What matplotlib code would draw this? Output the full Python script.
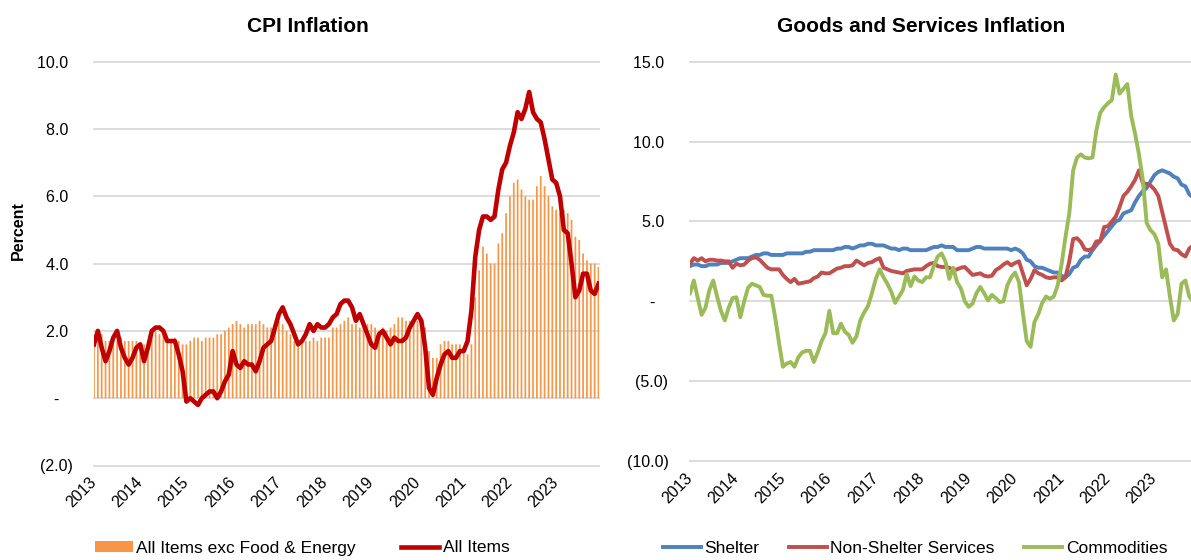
import matplotlib
matplotlib.use("Agg")
import matplotlib.pyplot as plt
import numpy as np
from matplotlib.patches import Patch
from matplotlib.lines import Line2D

plt.rcParams['font.family'] = ['Liberation Sans', 'DejaVu Sans']

# ---------------- data (monthly, Jan 2013 - Dec 2023) ----------------
years = [str(y) for y in range(2013, 2024)]

all_items = [
    1.6, 2.0, 1.5, 1.1, 1.4, 1.8, 2.0, 1.5, 1.2, 1.0, 1.2, 1.5,
    1.6, 1.1, 1.5, 2.0, 2.1, 2.1, 2.0, 1.7, 1.7, 1.7, 1.3, 0.8,
    -0.1, 0.0, -0.1, -0.2, 0.0, 0.1, 0.2, 0.2, 0.0, 0.2, 0.5, 0.7,
    1.4, 1.0, 0.9, 1.1, 1.0, 1.0, 0.8, 1.1, 1.5, 1.6, 1.7, 2.1,
    2.5, 2.7, 2.4, 2.2, 1.9, 1.6, 1.7, 1.9, 2.2, 2.0, 2.2, 2.1,
    2.1, 2.2, 2.4, 2.5, 2.8, 2.9, 2.9, 2.7, 2.3, 2.5, 2.2, 1.9,
    1.6, 1.5, 1.9, 2.0, 1.8, 1.6, 1.8, 1.7, 1.7, 1.8, 2.1, 2.3,
    2.5, 2.3, 1.5, 0.3, 0.1, 0.6, 1.0, 1.3, 1.4, 1.2, 1.2, 1.4,
    1.4, 1.7, 2.6, 4.2, 5.0, 5.4, 5.4, 5.3, 5.4, 6.2, 6.8, 7.0,
    7.5, 7.9, 8.5, 8.3, 8.6, 9.1, 8.5, 8.3, 8.2, 7.7, 7.1, 6.5,
    6.4, 6.0, 5.0, 4.9, 4.0, 3.0, 3.2, 3.7, 3.7, 3.2, 3.1, 3.4,
]

core = [
    1.9, 2.0, 1.9, 1.7, 1.7, 1.6, 1.7, 1.8, 1.7, 1.7, 1.7, 1.7,
    1.6, 1.6, 1.7, 1.8, 2.0, 1.9, 1.9, 1.7, 1.7, 1.8, 1.7, 1.6,
    1.6, 1.7, 1.8, 1.8, 1.7, 1.8, 1.8, 1.8, 1.9, 1.9, 2.0, 2.1,
    2.2, 2.3, 2.2, 2.1, 2.2, 2.2, 2.2, 2.3, 2.2, 2.1, 2.1, 2.2,
    2.3, 2.2, 2.0, 1.9, 1.7, 1.7, 1.7, 1.7, 1.7, 1.8, 1.7, 1.8,
    1.8, 1.8, 2.1, 2.1, 2.2, 2.3, 2.4, 2.2, 2.2, 2.1, 2.2, 2.2,
    2.2, 2.1, 2.0, 2.1, 2.0, 2.1, 2.2, 2.4, 2.4, 2.3, 2.3, 2.3,
    2.3, 2.4, 2.1, 1.4, 1.2, 1.2, 1.6, 1.7, 1.7, 1.6, 1.6, 1.6,
    1.4, 1.3, 1.6, 3.0, 3.8, 4.5, 4.3, 4.0, 4.0, 4.6, 4.9, 5.5,
    6.0, 6.4, 6.5, 6.2, 6.0, 5.9, 5.9, 6.3, 6.6, 6.3, 6.0, 5.7,
    5.6, 5.5, 5.6, 5.5, 5.3, 4.8, 4.7, 4.3, 4.1, 4.0, 4.0, 3.9,
]

shelter = [
    2.2, 2.3, 2.3, 2.2, 2.2, 2.3, 2.3, 2.3, 2.4, 2.4, 2.4, 2.5,
    2.6, 2.7, 2.7, 2.7, 2.8, 2.9, 2.9, 3.0, 3.0, 2.9, 2.9, 2.9,
    2.9, 3.0, 3.0, 3.0, 3.0, 3.0, 3.1, 3.1, 3.2, 3.2, 3.2, 3.2,
    3.2, 3.2, 3.3, 3.3, 3.4, 3.4, 3.3, 3.4, 3.5, 3.5, 3.6, 3.6,
    3.5, 3.5, 3.5, 3.4, 3.3, 3.3, 3.2, 3.3, 3.3, 3.2, 3.2, 3.2,
    3.2, 3.2, 3.3, 3.4, 3.4, 3.5, 3.4, 3.4, 3.4, 3.2, 3.2, 3.2,
    3.2, 3.3, 3.4, 3.4, 3.3, 3.3, 3.3, 3.3, 3.3, 3.3, 3.3, 3.2,
    3.3, 3.2, 3.0, 2.6, 2.5, 2.2, 2.1, 2.1, 2.0, 1.9, 1.8, 1.8,
    1.6, 1.5, 1.7, 2.1, 2.2, 2.6, 2.8, 2.8, 3.2, 3.5, 3.8, 4.1,
    4.4, 4.7, 5.0, 5.1, 5.5, 5.6, 5.7, 6.2, 6.6, 6.9, 7.1, 7.5,
    7.9, 8.1, 8.2, 8.1, 8.0, 7.8, 7.7, 7.3, 7.2, 6.7, 6.5, 6.2,
]

non_shelter_services = [
    2.35, 2.7, 2.55, 2.7, 2.5, 2.6, 2.6, 2.55, 2.55, 2.5, 2.5, 2.1,
    2.35, 2.25, 2.3, 2.55, 2.7, 2.75, 2.6, 2.35, 2.1, 2.0, 2.0, 2.0,
    1.65, 1.4, 1.2, 1.4, 1.1, 1.15, 1.2, 1.25, 1.45, 1.55, 1.8, 1.75,
    1.75, 1.9, 2.05, 2.1, 2.2, 2.2, 2.25, 2.55, 2.4, 2.25, 2.4, 2.45,
    2.6, 2.7, 2.1, 2.0, 1.9, 1.85, 1.8, 1.75, 1.9, 1.95, 2.0, 2.0,
    2.0, 2.2, 2.35, 2.4, 2.2, 2.15, 2.15, 2.1, 1.95, 2.0, 2.1, 2.15,
    1.9, 1.65, 1.7, 1.75, 1.6, 1.55, 1.6, 1.95, 2.1, 2.3, 2.45, 2.25,
    2.4, 2.5, 1.75, 1.0, 1.4, 1.95, 1.75, 1.65, 1.5, 1.45, 1.5, 1.5,
    1.3, 1.5, 2.5, 3.9, 3.95, 3.7, 3.25, 3.2, 3.3, 3.75, 3.75, 4.65,
    4.7, 5.0, 5.3, 5.9, 6.6, 6.85, 7.2, 7.6, 8.2, 7.4, 7.35, 7.25,
    7.0, 6.6, 5.6, 4.6, 3.6, 3.25, 3.2, 2.95, 2.8, 3.3, 3.5, 3.6,
]

commodities = [
    0.5, 1.3, 0.2, -0.85, -0.4, 0.7, 1.3, 0.3, -0.6, -1.2, -0.4, 0.2,
    0.25, -1.0, 0.0, 0.85, 1.1, 1.0, 0.9, 0.4, 0.35, 0.35, -1.0, -2.6,
    -4.1, -3.9, -3.8, -4.1, -3.5, -3.2, -3.1, -3.1, -3.8, -3.2, -2.5, -2.0,
    -0.6, -2.0, -2.0, -1.4, -1.9, -2.1, -2.6, -2.2, -1.2, -0.7, -0.3, 0.5,
    1.4, 2.0, 1.5, 1.1, 0.6, -0.1, 0.3, 0.7, 1.7, 0.95, 1.55, 1.3,
    1.2, 1.5, 1.5, 2.2, 2.8, 3.0, 2.5, 1.4, 2.1, 1.2, 0.8, 0.0,
    -0.35, -0.15, 0.5, 0.9, 0.5, 0.05, 0.4, 0.2, -0.05, 0.0, 1.0, 1.5,
    1.8, 1.2, -0.7, -2.5, -2.85, -1.3, -0.8, -0.1, 0.3, 0.15, 0.3, 1.0,
    2.3, 4.0, 5.5, 8.2, 9.0, 9.2, 9.0, 8.95, 9.0, 10.7, 11.8, 12.15,
    12.4, 12.6, 14.2, 13.0, 13.3, 13.6, 11.6, 10.5, 9.2, 7.6, 4.9, 4.45,
    4.2, 3.6, 1.5, 2.0, 0.3, -1.2, -0.8, 1.1, 1.3, 0.3, 0.0, 0.1,
]

left_yticks = [-2, 0, 2, 4, 6, 8, 10]
left_ylabels = ['(2.0)', '-   ', '2.0 ', '4.0 ', '6.0 ', '8.0 ', '10.0 ']
right_yticks = [-10, -5, 0, 5, 10, 15]
right_ylabels = ['(10.0)', '(5.0)', '-   ', '5.0 ', '10.0 ', '15.0 ']

# ---------------- styling ----------------
C_BAR = '#F79646'
C_ALL = '#C00000'
C_SHELTER = '#4F81BD'
C_NSS = '#C0504D'
C_COMM = '#9BBB59'
C_GRID = '#D9D9D9'
FS_TICK = 11.5

W, H = 1191, 560
fig = plt.figure(figsize=(W / 100, H / 100), dpi=100)


def rect(x0, x1, ytop, ybot):
    return [x0 / W, 1 - ybot / H, (x1 - x0) / W, (ybot - ytop) / H]


def style_axes(ax, yticks, ylabels, ylim, n):
    ax.set_ylim(*ylim)
    ax.set_xlim(0, n - 1)
    ax.set_yticks(yticks)
    ax.set_yticklabels(ylabels, fontsize=FS_TICK)
    ax.set_xticks(np.arange(0, n, 12)[:len(years)])
    ax.set_xticklabels(years, rotation=45, ha='right', va='center',
                       rotation_mode='anchor', fontsize=FS_TICK)
    for s in ax.spines.values():
        s.set_visible(False)
    ax.tick_params(axis='both', length=0)
    ax.tick_params(axis='y', pad=15.5)
    ax.tick_params(axis='x', pad=10.5)
    ax.yaxis.grid(True, color=C_GRID, linewidth=1.3)
    ax.set_axisbelow(True)
    for gl in ax.get_ygridlines():
        gl.set_clip_on(False)


# ---------------- left: CPI Inflation ----------------
n = len(all_items)
x = np.arange(n)
ax1 = fig.add_axes(rect(94, 598.5, 61.7, 465.5))
bars = ax1.bar(x, core, width=0.45, color=C_BAR, linewidth=0)
for b in bars:
    b.set_snap(False)
ax1.plot(x, all_items, color=C_ALL, linewidth=3.3, solid_joinstyle='round')
style_axes(ax1, left_yticks, left_ylabels, (-2, 10), n)

fig.text(308 / W, 1 - 26 / H, 'CPI Inflation', ha='center', va='center',
         fontsize=15, fontweight='bold')
fig.text(18 / W, 1 - 231 / H, 'Percent', ha='center', va='center',
         rotation=90, fontsize=11.5, fontweight='bold')

leg1 = fig.legend(handles=[Patch(facecolor=C_BAR, edgecolor='none'),
                           Line2D([], [], color=C_ALL, linewidth=3.3)],
                  labels=['All Items exc Food & Energy', 'All Items'],
                  loc='center', bbox_to_anchor=(302 / W, 1 - 548 / H),
                  ncol=2, frameon=False, fontsize=12.5, handlelength=2.2,
                  handleheight=0.6, handletextpad=0.2, columnspacing=2.6)

# ---------------- right: Goods and Services Inflation ----------------
ax2 = fig.add_axes(rect(690, 1197, 61.7, 461))
ax2.plot(x, shelter, color=C_SHELTER, linewidth=2.8)
ax2.plot(x, non_shelter_services, color=C_NSS, linewidth=2.8)
ax2.plot(x, commodities, color=C_COMM, linewidth=2.8)
style_axes(ax2, right_yticks, right_ylabels, (-10, 15), n)

fig.text(921 / W, 1 - 26 / H, 'Goods and Services Inflation', ha='center',
         va='center', fontsize=15, fontweight='bold')

leg2 = fig.legend(handles=[Line2D([], [], color=C_SHELTER, linewidth=2.8),
                           Line2D([], [], color=C_NSS, linewidth=2.8),
                           Line2D([], [], color=C_COMM, linewidth=2.8)],
                  labels=['Shelter', 'Non-Shelter Services', 'Commodities'],
                  loc='center', bbox_to_anchor=(915 / W, 1 - 548 / H),
                  ncol=3, frameon=False, fontsize=12.5, handlelength=2.2,
                  handletextpad=0.2, columnspacing=1.7)

fig.savefig('out.png', dpi=100)
